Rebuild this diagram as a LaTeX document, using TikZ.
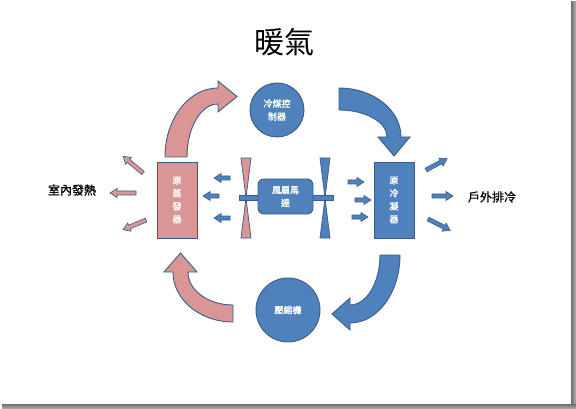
\documentclass[tikz,border=0pt]{standalone}
\usepackage{fontspec}
\newfontfamily\cjk{Noto Sans CJK TC}
\newfontfamily\cjkb[FakeBold=2]{Noto Sans CJK TC}
\newfontfamily\cjkm[FakeBold=1.2]{Noto Sans CJK TC}
\definecolor{bfill}{HTML}{4F81BD}
\definecolor{bline}{HTML}{385D8A}
\definecolor{pfill}{HTML}{D99694}
\definecolor{shdark}{HTML}{6E6E6E}
\definecolor{shlight}{HTML}{B4B4B4}
\tikzset{
  bshape/.style={fill=bfill, draw=bline, line width=0.9pt},
  pshape/.style={fill=pfill, draw=bline, line width=0.9pt},
  wtext/.style={text=white, font=\cjkb\fontsize{9}{13}\selectfont, align=center, inner sep=0pt},
  lbl/.style={font=\cjkm\fontsize{12}{12}\selectfont},
  barrow/.pic={\path[pic actions] (0,-2) -- (#1-7,-2) -- (#1-7,-4.5) -- (#1,0) -- (#1-7,4.5) -- (#1-7,2) -- (0,2) -- cycle;}
}
\begin{document}
\begin{tikzpicture}[x=1pt,y=1pt,font=\cjk]
\useasboundingbox (0,0) rectangle (576,-409);
\fill[white] (0,0) rectangle (576,-409);
% page shadow
\shade[left color=shdark, right color=shlight] (571,-2) rectangle (576,-409);
\shade[top color=shdark, bottom color=shlight] (2,-404) rectangle (576,-409);

% title
\node[font=\cjk\fontsize{30}{30}\selectfont] (title) at (284,-42) {暖氣};

% curved arrows
\path[pshape] (165,-157) arc[start angle=180, end angle=90, x radius=53, y radius=69]
  -- (218,-81) -- (237,-96.5) -- (218,-112) -- (218,-104)
  arc[start angle=90, end angle=180, x radius=31, y radius=53] -- cycle;
\path[bshape] (339,-88) arc[start angle=90, end angle=0, x radius=62, y radius=49]
  -- (410,-137) -- (394,-156) -- (378,-137) -- (387,-137)
  arc[start angle=0, end angle=90, x radius=48, y radius=27] -- cycle;
\path[bshape] (400,-255) arc[start angle=0, end angle=-90, x radius=50, y radius=68]
  -- (350,-330) -- (332,-314) -- (350,-298) -- (350,-305)
  arc[start angle=-90, end angle=0, x radius=30, y radius=50] -- cycle;
\path[pshape] (233,-322) arc[start angle=-90, end angle=-180, x radius=60, y radius=50]
  -- (164,-272) -- (180.5,-253) -- (197,-272) -- (188,-272)
  arc[start angle=180, end angle=270, x radius=45, y radius=33] -- cycle;

% circles and boxes
\node[circle, bshape, minimum size=54, wtext] (ctrl) at (277,-110) {冷煤控\\制器};
\node[circle, bshape, minimum size=64, wtext] (comp) at (288,-310) {壓縮機};
\node[rectangle, pshape, minimum width=40, minimum height=76, wtext] (evap) at (177,-200) {原\\蒸\\發\\器};
\node[rectangle, bshape, minimum width=40, minimum height=76, wtext] (cond) at (394,-200) {原\\冷\\凝\\器};

% fan blades and shaft
\path[pshape, line width=0.7pt] (241,-158) -- (251,-158) -- (246,-198) -- (251,-238) -- (241,-238) -- (246,-198) -- cycle;
\path[bshape, line width=0.7pt] (320,-158) -- (330,-158) -- (325,-198) -- (330,-238) -- (320,-238) -- (325,-198) -- cycle;
\path[bshape, line width=0.7pt] (239,-195.5) rectangle (333,-200.5);
\node[rounded corners=6, bshape, minimum width=55, minimum height=35, wtext] (motor) at (285.5,-196.5) {風扇馬\\達};

% air arrows into evaporator
\pic[bshape, line width=0.6pt, rotate=180] (ia1) at (230,-178) {barrow=16};
\pic[bshape, line width=0.6pt, rotate=180] (ia2) at (219,-196) {barrow=16};
\pic[bshape, line width=0.6pt, rotate=180] (ia3) at (230,-218) {barrow=16};
% air arrows into condenser
\pic[bshape, line width=0.6pt] (ib1) at (348,-182) {barrow=16};
\pic[bshape, line width=0.6pt] (ib2) at (355,-200) {barrow=16};
\pic[bshape, line width=0.6pt] (ib3) at (352,-217) {barrow=16};
% heat out of evaporator
\pic[pshape, line width=0.6pt, rotate=140] (oa1) at (143,-173) {barrow=26};
\pic[pshape, line width=0.6pt, rotate=180] (oa2) at (136,-193) {barrow=26};
\pic[pshape, line width=0.6pt, rotate=203] (oa3) at (146,-220) {barrow=25};
% cold out of condenser
\pic[bshape, line width=0.6pt, rotate=28] (ob1) at (426,-170) {barrow=24};
\pic[bshape, line width=0.6pt] (ob2) at (432,-196) {barrow=21};
\pic[bshape, line width=0.6pt, rotate=-27] (ob3) at (428,-219) {barrow=25};

% labels
\node[lbl] (indoor) at (72,-190) {室內發熱};
\node[lbl] (outdoor) at (492,-197) {戶外排冷};
\end{tikzpicture}
\end{document}
